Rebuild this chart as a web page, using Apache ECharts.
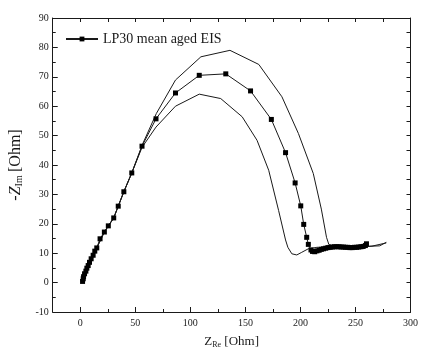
<!DOCTYPE html>
<html>
<head>
<meta charset="utf-8">
<script src="https://cdn.jsdelivr.net/npm/echarts@6/dist/echarts.min.js"></script>
<style>
  html, body { margin: 0; padding: 0; background: #fff; }
  #chart { width: 421px; height: 354px; }
</style>
</head>
<body>
<div id="chart"></div>
<script>
// mean aged EIS spectrum (with markers)
const meanEIS = [
  [2.1, 0.4], [2.7, 1.3], [3.0, 2.0], [3.9, 3.0], [5.1, 3.9], [6.0, 4.9],
  [7.2, 5.8], [8.4, 6.9], [9.9, 8.1], [11.7, 9.3], [13.2, 10.7], [15.0, 11.8],
  [18.0, 14.9], [21.9, 17.2], [25.5, 19.3], [30.4, 22.0], [34.5, 26.0],
  [39.6, 30.9], [46.8, 37.3], [56.1, 46.4], [68.8, 55.7], [86.5, 64.5],
  [108.1, 70.5], [132.2, 71.0], [154.7, 65.2], [173.6, 55.5], [186.5, 44.2],
  [195.2, 33.9], [200.3, 26.1], [203.0, 19.8], [205.7, 15.4], [207.2, 13.0],
  [209.6, 11.1], [211, 10.6], [213, 10.5], [215, 10.8], [217, 11.0],
  [219, 11.3], [221, 11.5], [223, 11.7], [225, 11.9], [227, 12.0], [229, 12.1],
  [231, 12.2], [233, 12.2], [235, 12.2], [237, 12.1], [239, 12.1], [241, 12.0],
  [243, 12.0], [245, 11.9], [247, 11.9], [249, 12.0], [251, 12.0], [253, 12.1],
  [255, 12.2], [257, 12.3], [259, 12.6], [260, 13.2]
];

// upper envelope
const upperEIS = [
  [2.1, 0.4], [5.1, 3.9], [9.9, 8.1], [15.0, 11.8], [21.9, 17.2], [30.4, 22.0],
  [39.6, 30.9], [46.8, 37.3], [56.5, 47.0], [69.1, 57.5], [86.5, 68.9],
  [109.6, 76.8], [136.0, 79.0], [162.2, 74.2], [183.2, 63.2], [198.2, 50.7],
  [211.7, 37.1], [219.0, 25.0], [223.7, 15.4], [225.8, 13.0], [230, 12.3],
  [250, 12.1], [265, 12.4], [272, 12.5], [278, 13.7]
];

// lower envelope
const lowerEIS = [
  [2.1, 0.4], [5.1, 3.9], [9.9, 8.1], [15.0, 11.8], [21.9, 17.2], [30.4, 22.0],
  [39.6, 30.9], [46.8, 37.3], [56.1, 46.0], [68.8, 52.9], [86.5, 60.0],
  [108.1, 64.1], [127.6, 62.6], [147.1, 56.4], [160.6, 48.4], [171.2, 38.2],
  [180.2, 24.5], [186.5, 14.5], [188.6, 12.0], [192.2, 9.8], [196.7, 9.4],
  [201.2, 10.3], [207.2, 11.5], [215, 12.0], [230, 12.2], [250, 12.0],
  [265, 12.4], [278, 13.5]
];

const xMajor = [0, 50, 100, 150, 200, 250, 300];
const xMinor = [-25, 25, 75, 125, 175, 225, 275];
const xAll = [-25, 0, 25, 50, 75, 100, 125, 150, 175, 200, 225, 250, 275, 300];

const font = 'Liberation Serif';
const ink = '#1a1a1a';

const chart = echarts.init(document.getElementById('chart'));

const option = {
  animation: false,
  backgroundColor: '#fff',
  grid: { left: 52, top: 18, right: 8, bottom: 42 },
  legend: {
    left: 65, top: 32, padding: 0,
    itemWidth: 32, itemHeight: 6,
    data: ['LP30 mean aged EIS'],
    textStyle: { fontFamily: font, fontSize: 14, color: ink }
  },
  xAxis: [
    {
      type: 'value', position: 'bottom', min: -25, max: 300,
      name: '{m|Z}{s|Re} {m|[Ohm]}', nameLocation: 'middle', nameGap: 23,
      nameTextStyle: {
        rich: {
          m: { fontFamily: font, fontSize: 13, color: ink },
          s: { fontFamily: font, fontSize: 8, color: ink, verticalAlign: 'bottom', padding: [6, 0, 0, 0] }
        }
      },
      axisLine: { onZero: false, lineStyle: { color: ink, width: 1 } },
      axisTick: { inside: true, length: 5, customValues: xMajor, lineStyle: { color: ink } },
      axisLabel: { customValues: xMajor, fontFamily: font, fontSize: 10, color: ink, margin: 6 },
      splitLine: { show: false }
    },
    {
      type: 'value', position: 'bottom', min: -25, max: 300,
      axisLine: { show: false, onZero: false },
      axisTick: { inside: true, length: 3, customValues: xMinor, lineStyle: { color: ink } },
      axisLabel: { show: false },
      splitLine: { show: false }
    },
    {
      type: 'value', position: 'top', min: -25, max: 300,
      axisLine: { onZero: false, lineStyle: { color: ink, width: 1 } },
      axisTick: { inside: true, length: 4, customValues: xAll, lineStyle: { color: ink } },
      axisLabel: { show: false },
      splitLine: { show: false }
    }
  ],
  yAxis: [
    {
      type: 'value', position: 'left', min: -10, max: 90, interval: 10,
      name: '{i|-Z}{s|Im} {m|[Ohm]}', nameLocation: 'middle', nameGap: 24,
      nameTextStyle: {
        rich: {
          i: { fontFamily: font, fontSize: 16, fontStyle: 'italic', color: ink },
          m: { fontFamily: font, fontSize: 16, color: ink },
          s: { fontFamily: font, fontSize: 10, color: ink, verticalAlign: 'bottom', padding: [7, 0, 0, 0] }
        }
      },
      axisLine: { show: true, onZero: false, lineStyle: { color: ink, width: 1 } },
      axisTick: { inside: true, length: 5, lineStyle: { color: ink } },
      minorTick: { show: true, splitNumber: 2, length: 3, lineStyle: { color: ink } },
      axisLabel: { fontFamily: font, fontSize: 10, color: ink, margin: 4 },
      splitLine: { show: false }
    },
    {
      type: 'value', position: 'right', min: -10, max: 90, interval: 5,
      axisLine: { show: true, onZero: false, lineStyle: { color: ink, width: 1 } },
      axisTick: { inside: true, length: 4, lineStyle: { color: ink } },
      axisLabel: { show: false },
      splitLine: { show: false }
    }
  ],
  series: [
    {
      name: 'upper', type: 'line', data: upperEIS,
      showSymbol: false, silent: true,
      lineStyle: { color: ink, width: 1 }
    },
    {
      name: 'lower', type: 'line', data: lowerEIS,
      showSymbol: false, silent: true,
      lineStyle: { color: ink, width: 1 }
    },
    {
      name: 'LP30 mean aged EIS', type: 'line', data: meanEIS,
      symbol: 'rect', symbolSize: 5,
      itemStyle: { color: '#000' },
      lineStyle: { color: ink, width: 1 }
    }
  ]
};

chart.setOption(option);

window.addEventListener('resize', function () {
  chart.resize();
});
</script>
</body>
</html>
